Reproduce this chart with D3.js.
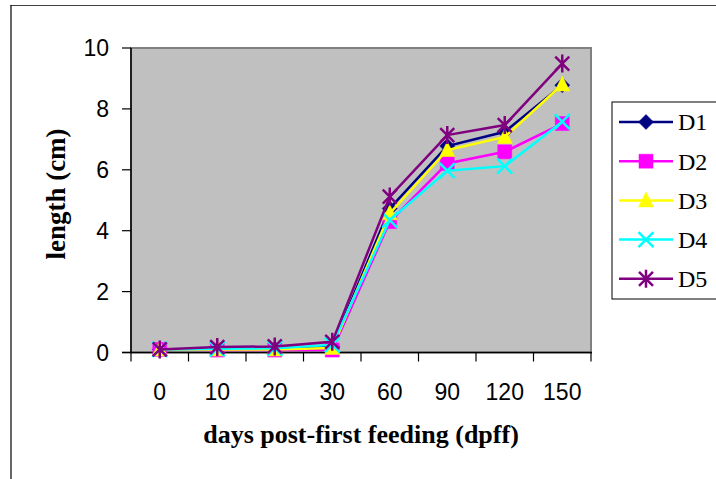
<!DOCTYPE html>
<html lang="en">
<head>
  <meta charset="utf-8">
  <title>length vs dpff</title>
  <script src="https://cdn.jsdelivr.net/npm/d3@7/dist/d3.min.js"></script>
  <style>
    body { margin: 0; background: #fff; }
    .tick-label { font-family: "Liberation Sans", Arial, sans-serif; font-size: 23px; fill: #000; }
    .title { font-family: "Liberation Serif", "Times New Roman", serif; font-weight: bold; fill: #000; }
    .legend-label { font-family: "Liberation Serif", "Times New Roman", serif; font-size: 24px; fill: #000; }
  </style>
</head>
<body>
  <script>
    // data
    var days = ["0", "10", "20", "30", "60", "90", "120", "150"];
    var D1 = [0.1, 0.1, 0.12, 0.2, 4.73, 6.78, 7.25, 8.78];
    var D2 = [0.1, 0.08, 0.08, 0.08, 4.3, 6.21, 6.59, 7.52];
    var D3 = [0.1, 0.1, 0.1, 0.15, 4.57, 6.65, 7.08, 8.8];
    var D4 = [0.1, 0.12, 0.14, 0.25, 4.35, 5.97, 6.12, 7.58];
    var D5 = [0.1, 0.18, 0.2, 0.35, 5.12, 7.14, 7.47, 9.49];
    var seriesNames = ["D1", "D2", "D3", "D4", "D5"];
    var yTicks = [0, 2, 4, 6, 8, 10];

    var width = 716;
    var height = 479;
    var colors = ["#000080", "#ff00ff", "#ffff00", "#00ffff", "#800080"];
    var markers = ["diamond", "square", "triangle", "x", "star"];
    var series = [D1, D2, D3, D4, D5];

    var svg = d3.select("body")
      .append("svg")
      .attr("width", width)
      .attr("height", height);

    // outer chart frame
    svg.append("line").attr("x1", 10.5).attr("y1", 5.5).attr("x2", width).attr("y2", 5.5)
      .attr("stroke", "#404040").attr("stroke-width", 1.2);
    svg.append("line").attr("x1", 11).attr("y1", 5).attr("x2", 11).attr("y2", height)
      .attr("stroke", "#000").attr("stroke-width", 1.2);

    var plotL = 131, plotR = 591, plotT = 48, plotB = 352.5;

    var x = d3.scaleBand().domain(days).range([plotL, plotR]);
    var y = d3.scaleLinear().domain([0, 10]).range([plotB, plotT]);

    // plot area
    svg.append("rect")
      .attr("x", plotL).attr("y", plotT)
      .attr("width", plotR - plotL).attr("height", plotB - plotT)
      .attr("fill", "#c0c0c0")
      .attr("stroke", "#808080")
      .attr("stroke-width", 2);

    // y axis
    var yAxis = svg.append("g");
    yAxis.append("line").attr("x1", plotL).attr("x2", plotL).attr("y1", plotT).attr("y2", plotB)
      .attr("stroke", "#000").attr("stroke-width", 1.5);
    yAxis.selectAll(".yt").data(yTicks).enter().append("line")
      .attr("x1", plotL - 9).attr("x2", plotL)
      .attr("y1", function(d) { return y(d); }).attr("y2", function(d) { return y(d); })
      .attr("stroke", "#000").attr("stroke-width", 1.2);
    yAxis.selectAll("text").data(yTicks).enter().append("text")
      .attr("class", "tick-label")
      .attr("x", plotL - 22)
      .attr("y", function(d) { return y(d); })
      .attr("dy", "0.36em")
      .attr("text-anchor", "end")
      .text(function(d) { return d; });

    // x axis
    var xAxis = svg.append("g");
    xAxis.append("line").attr("x1", plotL - 9).attr("x2", plotR + 1).attr("y1", plotB).attr("y2", plotB)
      .attr("stroke", "#000").attr("stroke-width", 1.5);
    var bounds = days.map(function(d) { return x(d); }).concat([x(days[days.length - 1]) + x.bandwidth()]);
    xAxis.selectAll(".xt").data(bounds).enter().append("line")
      .attr("x1", function(d) { return d; }).attr("x2", function(d) { return d; })
      .attr("y1", plotB).attr("y2", plotB + 9)
      .attr("stroke", "#000").attr("stroke-width", 1.2);
    xAxis.selectAll("text").data(days).enter().append("text")
      .attr("class", "tick-label")
      .attr("x", function(d) { return x(d) + x.bandwidth() / 2; })
      .attr("y", 392)
      .attr("dy", "0.36em")
      .attr("text-anchor", "middle")
      .text(function(d) { return d; });

    // axis titles
    svg.append("text").attr("class", "title")
      .attr("x", 361).attr("y", 443)
      .attr("font-size", 26)
      .attr("text-anchor", "middle")
      .text("days post-first feeding (dpff)");
    svg.append("text").attr("class", "title")
      .attr("transform", "translate(65,194) rotate(-90)")
      .attr("font-size", 27)
      .attr("text-anchor", "middle")
      .text("length (cm)");

    // marker shapes
    function markerPath(kind) {
      if (kind === "diamond") return "M0,-7.5L7.5,0L0,7.5L-7.5,0Z";
      if (kind === "square") return "M-7,-7H7V7H-7Z";
      if (kind === "triangle") return "M0,-8.5L7.5,6.5H-7.5Z";
      if (kind === "x") return "M-7.5,-7.5L7.5,7.5M-7.5,7.5L7.5,-7.5";
      return "M-7,-7L7,7M-7,7L7,-7M0,-9V9";
    }
    function drawMarker(g, kind, color) {
      var filled = kind === "diamond" || kind === "square" || kind === "triangle";
      g.append("path")
        .attr("d", markerPath(kind))
        .attr("fill", filled ? color : "none")
        .attr("stroke", color)
        .attr("stroke-width", filled ? 0.5 : 2.5);
    }

    var line = d3.line()
      .x(function(d, i) { return x(days[i]) + x.bandwidth() / 2; })
      .y(function(d) { return y(d); });

    series.forEach(function(vals, s) {
      var g = svg.append("g");
      g.append("path")
        .attr("d", line(vals))
        .attr("fill", "none")
        .attr("stroke", colors[s])
        .attr("stroke-width", 2.5);
      vals.forEach(function(v, i) {
        var m = g.append("g")
          .attr("transform", "translate(" + (x(days[i]) + x.bandwidth() / 2) + "," + y(v) + ")");
        drawMarker(m, markers[s], colors[s]);
      });
    });

    // legend
    var legend = svg.append("g");
    legend.append("rect")
      .attr("x", 612).attr("y", 102)
      .attr("width", 120).attr("height", 197)
      .attr("fill", "#fff").attr("stroke", "#000").attr("stroke-width", 1);
    seriesNames.forEach(function(name, s) {
      var ly = 122 + s * 39.2;
      var row = legend.append("g");
      row.append("line").attr("x1", 619).attr("x2", 673).attr("y1", ly).attr("y2", ly)
        .attr("stroke", colors[s]).attr("stroke-width", 2.5);
      var m = row.append("g").attr("transform", "translate(646," + ly + ")");
      drawMarker(m, markers[s], colors[s]);
      row.append("text").attr("class", "legend-label")
        .attr("x", 678).attr("y", ly).attr("dy", "0.35em")
        .text(name);
    });
  </script>
</body>
</html>
